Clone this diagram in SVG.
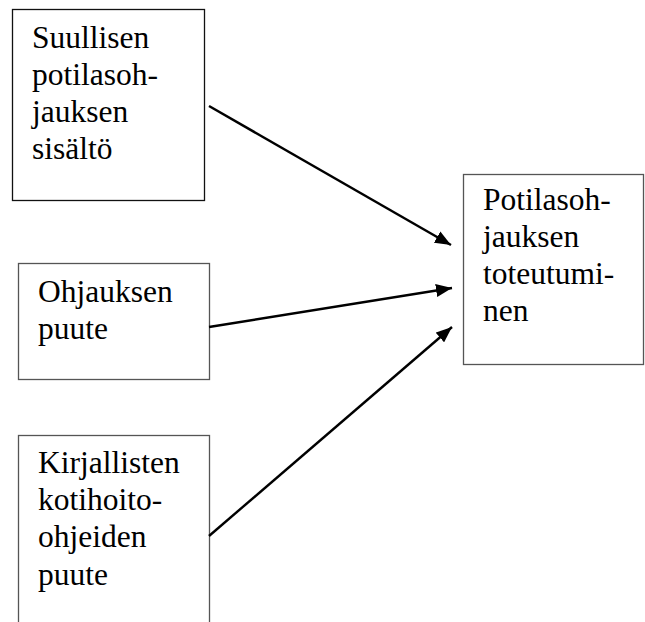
<svg xmlns="http://www.w3.org/2000/svg" width="645" height="622" viewBox="0 0 645 622">
  <style>
    .box { fill: #ffffff; stroke: #555555; stroke-width: 1.3; }
    .box.dark { stroke: #111111; }
    .lbl { font-family: "Liberation Serif", "Times New Roman", serif; font-size: 31.5px; fill: #000000; }
    .conn { stroke: #000000; stroke-width: 2.4; fill: none; marker-end: url(#head); }
  </style>
  <defs>
    <marker id="head" viewBox="0 0 16 13" refX="16" refY="6.5" markerUnits="userSpaceOnUse" markerWidth="16" markerHeight="13" orient="auto">
      <path d="M0,0 L16,6.5 L0,13 Z" fill="#000000"/>
    </marker>
  </defs>
  <rect width="645" height="622" fill="#ffffff"/>

  <g id="node-suullinen">
    <rect class="box dark" x="12.5" y="9.5" width="192" height="191"/>
    <text class="lbl" x="32" y="48">Suullisen</text>
    <text class="lbl" x="32" y="85">potilasoh-</text>
    <text class="lbl" x="32" y="122">jauksen</text>
    <text class="lbl" x="32" y="159">sisältö</text>
  </g>

  <g id="node-ohjaus">
    <rect class="box" x="18.5" y="263.5" width="191" height="116"/>
    <text class="lbl" x="38" y="302">Ohjauksen</text>
    <text class="lbl" x="38" y="339">puute</text>
  </g>

  <g id="node-kirjalliset">
    <rect class="box" x="18.5" y="435.5" width="191" height="200"/>
    <text class="lbl" x="38" y="473">Kirjallisten</text>
    <text class="lbl" x="38" y="510">kotihoito-</text>
    <text class="lbl" x="38" y="547">ohjeiden</text>
    <text class="lbl" x="38" y="585">puute</text>
  </g>

  <g id="node-toteutuminen">
    <rect class="box" x="463.5" y="174.5" width="180" height="190"/>
    <text class="lbl" x="483" y="210">Potilasoh-</text>
    <text class="lbl" x="483" y="247">jauksen</text>
    <text class="lbl" x="483" y="284">toteutumi-</text>
    <text class="lbl" x="483" y="321">nen</text>
  </g>

  <g id="connectors">
    <line class="conn" x1="209" y1="106" x2="451" y2="245"/>
    <line class="conn" x1="209" y1="327" x2="452" y2="288"/>
    <line class="conn" x1="209" y1="536" x2="452" y2="327"/>
  </g>
</svg>
